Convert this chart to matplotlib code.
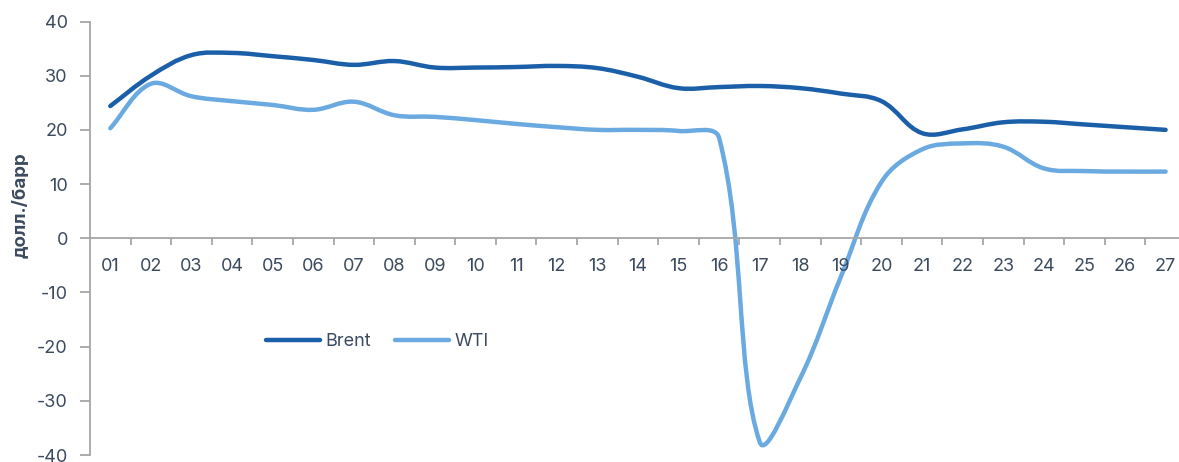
import numpy as np
import matplotlib
matplotlib.use('Agg')
import matplotlib.pyplot as plt
from matplotlib.path import Path
from matplotlib.patches import PathPatch
from matplotlib.lines import Line2D

days = ['01', '02', '03', '04', '05', '06', '07', '08', '09', '10', '11', '12', '13', '14',
        '15', '16', '17', '18', '19', '20', '21', '22', '23', '24', '25', '26', '27']
brent = [24.4, 30.0, 33.8, 34.2, 33.6, 32.9, 32.0, 32.7, 31.5, 31.5, 31.6, 31.8, 31.4, 29.8,
         27.7, 27.9, 28.1, 27.7, 26.7, 25.3, 19.4, 20.1, 21.4, 21.5, 21.0, 20.5, 20.0]
wti = [20.3, 28.5, 26.2, 25.3, 24.6, 23.7, 25.2, 22.7, 22.4, 21.8, 21.1, 20.5, 20.0, 20.0,
       19.8, 18.5, -37.6, -25.8, -7.1, 10.4, 16.4, 17.5, 16.9, 12.9, 12.4, 12.3, 12.3]

dark = '#1a5fa8'
light = '#6aaae0'
txt = '#3b4a5e'
grey = '#a6a6a6'

plt.rcParams['font.family'] = ['Inter', 'DejaVu Sans']
plt.rcParams['axes.unicode_minus'] = False

fig = plt.figure(figsize=(11.79, 4.62), dpi=100)
ax = fig.add_axes([90 / 1179, 7 / 462, 1 - 90 / 1179, 433.5 / 462])
ax.set_xlim(-0.5, 26.33)
ax.set_ylim(-40, 40)


def smooth(ax, xs, ys, color, k=1.1):
    # bezier smoothing, control points scaled by neighbouring segment lengths in pixels
    pts = ax.transData.transform(np.column_stack([xs, ys]))
    n = len(pts)
    verts = [pts[0]]
    codes = [Path.MOVETO]
    for i in range(n - 1):
        p0 = pts[i - 1] if i > 0 else pts[i]
        p1 = pts[i]
        p2 = pts[i + 1]
        p3 = pts[i + 2] if i + 2 < n else pts[i + 1]
        d01 = np.hypot(*(p1 - p0))
        d12 = np.hypot(*(p2 - p1))
        d23 = np.hypot(*(p3 - p2))
        f1 = d12 / (d01 + d12)
        f2 = d12 / (d12 + d23)
        c1 = p1 + (p2 - p0) * f1 * k / 3 if i > 0 else p1 + (p2 - p1) / 3
        c2 = p2 - (p3 - p1) * f2 * k / 3 if i + 2 < n else p2 - (p2 - p1) / 3
        verts += [c1, c2, p2]
        codes += [Path.CURVE4] * 3
    inv = ax.transData.inverted()
    path = Path(inv.transform(np.array(verts)), codes)
    ax.add_patch(PathPatch(path, facecolor='none', edgecolor=color, lw=3.2,
                           capstyle='round', joinstyle='round'))


x = np.arange(len(days))
smooth(ax, x, wti, light)
smooth(ax, x, brent, dark)

for s in ['top', 'right']:
    ax.spines[s].set_visible(False)
ax.spines['bottom'].set_position(('data', 0))
ax.spines['left'].set_color(grey)
ax.spines['bottom'].set_color(grey)
ax.spines['left'].set_linewidth(1.3)
ax.spines['bottom'].set_linewidth(1.3)

ax.set_yticks(np.arange(-40, 41, 10))
ax.tick_params(axis='y', length=7, width=1.3, color=grey, labelcolor=txt, labelsize=13, pad=9)

ax.set_xticks(np.arange(0.5, 26.5, 1))
ax.set_xticklabels([])
ax.set_xticks(x, minor=True)
ax.set_xticklabels(days, minor=True)
ax.tick_params(axis='x', which='major', length=5, width=1.3, color=grey, direction='out')
ax.tick_params(axis='x', which='minor', length=0, labelcolor=txt, labelsize=13, pad=14)

ax.set_ylabel('долл./барр', fontsize=13.5, fontweight='bold', color=txt)
ax.yaxis.set_label_coords(-0.055, 0.577)

handles = [Line2D([], [], color=dark, lw=3.2, solid_capstyle='round'),
           Line2D([], [], color=light, lw=3.2, solid_capstyle='round')]
leg = ax.legend(handles, ['Brent', 'WTI'], ncol=2, frameon=False, loc='center left',
                handlelength=3.0, handletextpad=0.3, columnspacing=1.3, fontsize=13)
for t in leg.get_texts():
    t.set_color(txt)
leg.set_bbox_to_anchor((250 / 1179, 1 - 342 / 462), transform=fig.transFigure)

fig.savefig('out.png', dpi=100)
